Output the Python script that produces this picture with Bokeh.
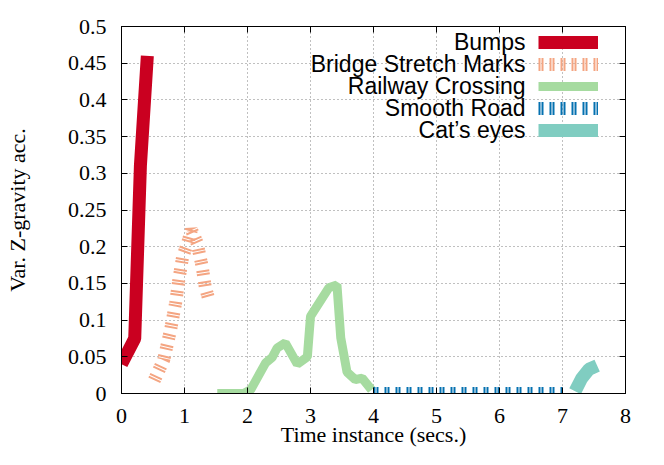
from bokeh.plotting import figure
from bokeh.models import FixedTicker, LinearAxis, Legend, LegendItem, Label, Range1d
from bokeh.embed import file_html
from bokeh.resources import INLINE

# ---------------- data ----------------
bumps_t = [0.0, 0.21, 0.30, 0.41]
bumps_v = [0.04, 0.075, 0.31, 0.46]

bridge_t = [0.52, 0.67, 0.78, 0.86, 0.91, 0.97, 1.05, 1.11, 1.20, 1.28, 1.33, 1.38]
bridge_v = [0.018, 0.046, 0.087, 0.124, 0.155, 0.186, 0.205, 0.223, 0.205, 0.173, 0.145, 0.13]

rail_t = [1.52, 1.94, 2.05, 2.29, 2.39, 2.47, 2.60, 2.79, 2.95, 3.00, 3.29, 3.42, 3.48, 3.58, 3.71, 3.82, 3.97]
rail_v = [0.0, 0.0, 0.005, 0.042, 0.049, 0.062, 0.069, 0.04, 0.05, 0.105, 0.144, 0.148, 0.076, 0.029, 0.019, 0.021, 0.005]

smooth_t = [4.0, 5.0, 6.0, 7.0]
smooth_v = [0.0, 0.0, 0.0, 0.0]

cat_t = [7.2, 7.3, 7.42, 7.55]
cat_v = [0.003, 0.02, 0.033, 0.038]

series_names = ["Bumps", "Bridge Stretch Marks", "Railway Crossing", "Smooth Road", "Cat\u2019s eyes"]

x_ticks = [0, 1, 2, 3, 4, 5, 6, 7, 8]
x_tick_labels = ["0", "1", "2", "3", "4", "5", "6", "7", "8"]
y_ticks = [0, 0.05, 0.1, 0.15, 0.2, 0.25, 0.3, 0.35, 0.4, 0.45, 0.5]
y_tick_labels = ["0", "0.05", "0.1", "0.15", "0.2", "0.25", "0.3", "0.35", "0.4", "0.45", "0.5"]

x_title = "Time instance (secs.)"
y_title = "Var. Z-gravity acc."

# ---------------- figure ----------------
SERIF = "Liberation Serif"
SANS = "Liberation Sans"

p = figure(width=648, height=449, x_range=Range1d(0, 8), y_range=Range1d(0, 0.5),
           output_backend="svg", toolbar_location=None,
           min_border_left=121, min_border_right=23, min_border_top=26, min_border_bottom=55)
p.outline_line_color = "black"
p.outline_line_width = 1
p.background_fill_color = "white"
p.border_fill_color = "white"

xt = FixedTicker(ticks=x_ticks)
yt = FixedTicker(ticks=y_ticks)

for ax in p.xaxis:
    ax.ticker = xt
    ax.major_label_overrides = {t: l for t, l in zip(x_ticks, x_tick_labels)}
    ax.axis_label = x_title
    ax.major_label_standoff = 15
    ax.axis_label_standoff = -4
for ax in p.yaxis:
    ax.ticker = yt
    ax.major_label_overrides = {t: l for t, l in zip(y_ticks, y_tick_labels)}
    ax.axis_label = y_title
    ax.major_label_standoff = 15
    ax.axis_label_standoff = 35

for ax in p.xaxis + p.yaxis:
    ax.major_tick_in = 6
    ax.major_tick_out = 0
    ax.minor_tick_line_color = None
    ax.axis_line_color = "black"
    ax.major_tick_line_color = "black"
    ax.major_label_text_font = SERIF
    ax.major_label_text_font_size = "22px"
    ax.major_label_text_color = "black"
    ax.axis_label_text_font = SERIF
    ax.axis_label_text_font_size = "22px"
    ax.axis_label_text_font_style = "normal"
    ax.axis_label_text_color = "black"

# mirror axes (ticks only, empty labels)
right_ax = LinearAxis(ticker=yt, major_tick_in=6, major_tick_out=0, minor_tick_line_color=None,
                      major_label_overrides={t: "" for t in y_ticks},
                      major_label_text_font_size="8px", major_label_standoff=0)
top_ax = LinearAxis(ticker=xt, major_tick_in=6, major_tick_out=0, minor_tick_line_color=None,
                    major_label_overrides={t: "" for t in x_ticks},
                    major_label_text_font_size="8px", major_label_standoff=0)
p.add_layout(right_ax, "right")
p.add_layout(top_ax, "above")

p.xgrid.ticker = xt
p.ygrid.ticker = yt
for g in (p.xgrid, p.ygrid):
    g.grid_line_color = "#808080"
    g.grid_line_dash = "1 3"
    g.grid_line_width = 1

# ---------------- series ----------------
r_bumps = p.line(bumps_t, bumps_v, line_color="#ca0020", line_width=13)
r_bridge = p.line(bridge_t, bridge_v, line_color="#f4a582", line_width=13, line_dash="2 1 2 6")
r_rail = p.line(rail_t, rail_v, line_color="#a6dba0", line_width=9)
r_smooth = p.line(smooth_t, smooth_v, line_color="#0571b0", line_width=13, line_dash="2 1 2 6")
r_cat = p.line(cat_t, cat_v, line_color="#80cdc1", line_width=13)
renderers = [r_bumps, r_bridge, r_rail, r_smooth, r_cat]

# ---------------- legend (text left, sample right, like gnuplot) ----------------
row_h = 22
legend = Legend(items=[LegendItem(label=" ", renderers=[r]) for r in renderers],
                location=(417, 252), padding=0, margin=0, spacing=0,
                glyph_width=60, glyph_height=row_h, label_width=0, label_standoff=0,
                label_text_font_size="10px", border_line_color=None,
                background_fill_alpha=0)
p.add_layout(legend, "center")

top_row = 351
for i, name in enumerate(series_names):
    p.add_layout(Label(x=404, y=top_row - i * row_h + 1, x_units="screen", y_units="screen",
                       text=name, text_align="right", text_baseline="middle",
                       text_font=SANS, text_font_size="23px", text_color="black"))

open("out.html", "w").write(file_html(p, INLINE))
